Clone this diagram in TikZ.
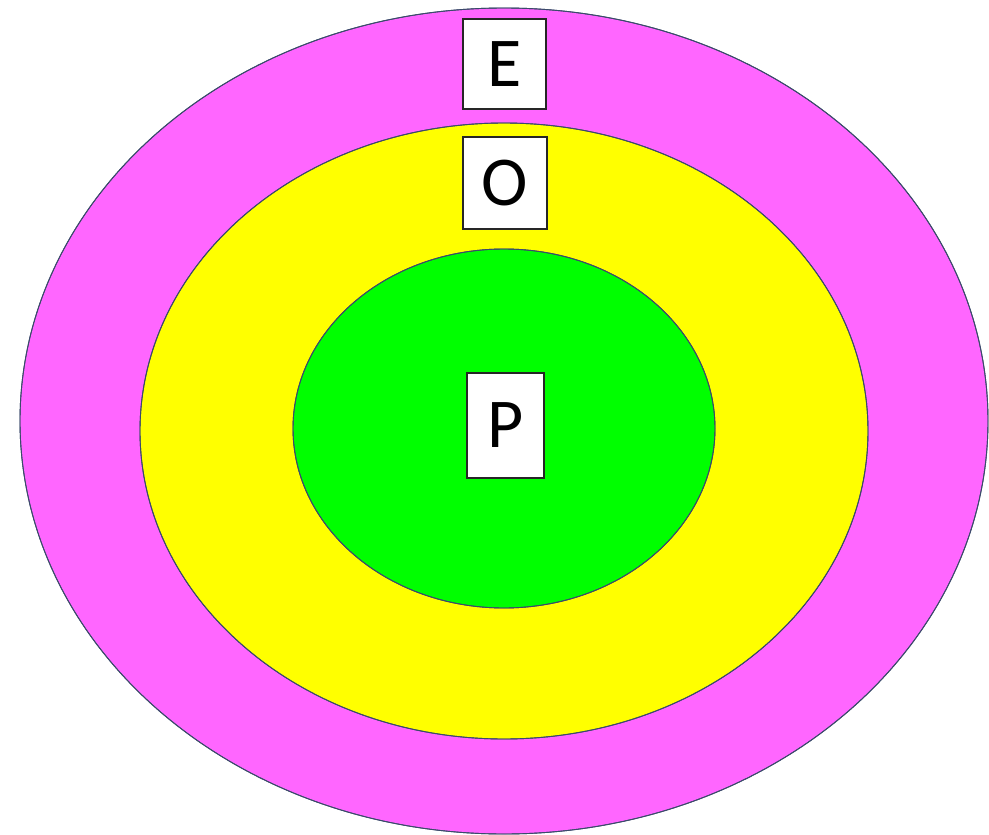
\documentclass[tikz,border=0pt]{standalone}
\usepackage{fontspec}
\setmainfont{Carlito}
\definecolor{ringmag}{HTML}{FF66FF}
\definecolor{ringyel}{HTML}{FFFF00}
\definecolor{ringgrn}{HTML}{00FF00}
\definecolor{ringedge}{HTML}{3B4A6B}
\begin{document}
\begin{tikzpicture}[x=1pt,y=-1pt,
  ring/.style={draw=ringedge,line width=0.9pt},
  lbl/.style={draw=black!85,line width=1.2pt,fill=white,inner sep=0pt,font=\fontsize{70}{70}\selectfont,anchor=center}]
\useasboundingbox (0,0) rectangle (989,835);
\fill[ring,fill=ringmag] (504,421) ellipse [x radius=484, y radius=413];
\fill[ring,fill=ringyel] (504,431) ellipse [x radius=364, y radius=308];
\fill[ring,fill=ringgrn] (504,428.5) ellipse [x radius=211, y radius=179.5];
\draw[ring] (504,421) ellipse [x radius=484, y radius=413];
\draw[ring] (504,431) ellipse [x radius=364, y radius=308];
\draw[ring] (504,428.5) ellipse [x radius=211, y radius=179.5];
\node[lbl,minimum width=83pt,minimum height=90pt] (E) at (504.5,64) {E};
\node[lbl,minimum width=84pt,minimum height=92pt] (O) at (505,183) {O};
\node[lbl,minimum width=77pt,minimum height=105pt] (P) at (505.5,425.5) {P};
\end{tikzpicture}
\end{document}
